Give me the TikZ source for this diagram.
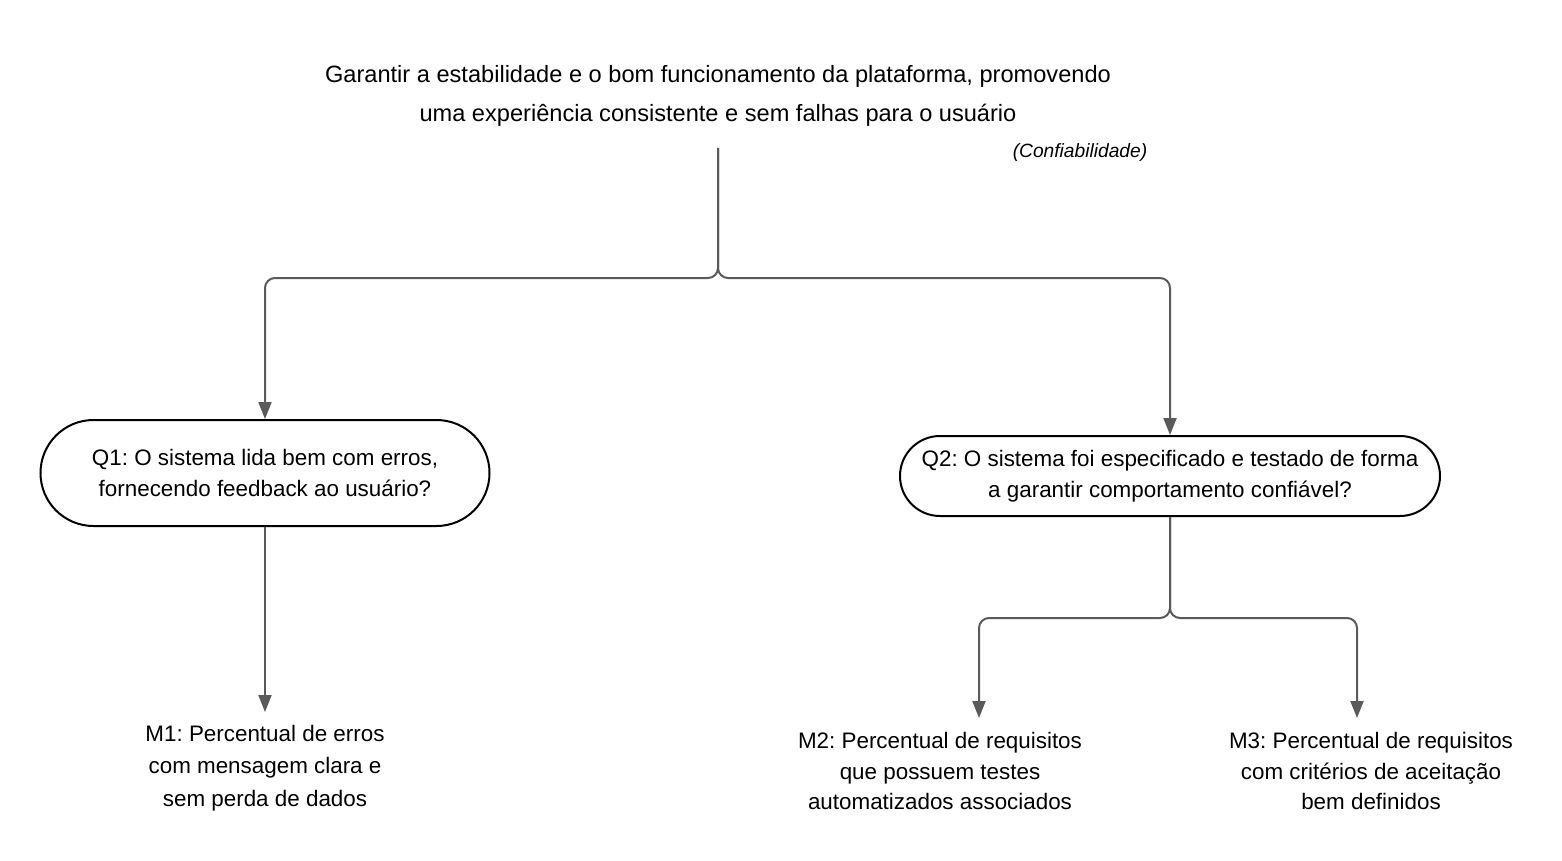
\documentclass[tikz,border=0pt]{standalone}
\usepackage{fontspec}
\setmainfont{Liberation Sans}
\usetikzlibrary{arrows.meta}
\definecolor{linec}{HTML}{5A5A5A}
\tikzset{
  conn/.style={draw=linec, line width=1pt, rounded corners=5pt, -{Triangle[width=6.5pt,length=8.5pt]}},
  txt/.style={align=center, inner sep=0pt},
  pill/.style={draw=black, line width=1pt, align=center, inner sep=0pt, font=\fontsize{11.2}{15.5}\selectfont},
}
\begin{document}
\frenchspacing
\begin{tikzpicture}[x=0.5pt,y=-0.5pt]
\useasboundingbox (0,0) rectangle (1562,861);
% goal
\node[txt, font=\fontsize{11.8}{19.5}\selectfont] (goal) at (718,96) {Garantir a estabilidade e o bom funcionamento da plataforma, promovendo\\uma experiência consistente e sem falhas para o usuário};
\node[inner sep=0pt, font=\fontsize{9.6}{10}\selectfont\itshape] (conf) at (1080,153) {(Confiabilidade)};
\coordinate (gs) at (718,148);
% questions
\node[pill, minimum width=224.5pt, minimum height=53pt, rounded corners=26.5pt] (q1) at (265,473) {Q1: O sistema lida bem com erros,\\fornecendo feedback ao usuário?};
\node[pill, minimum width=270pt, minimum height=40pt, rounded corners=20pt] (q2) at (1170,476) {Q2: O sistema foi especificado e testado de forma\\a garantir comportamento confiável?};
% metrics
\node[txt, font=\fontsize{11.2}{16.3}\selectfont] (m1) at (265,768) {M1: Percentual de erros\\com mensagem clara e\\sem perda de dados};
\node[txt, font=\fontsize{11.2}{15.3}\selectfont] (m2) at (940,771) {M2: Percentual de requisitos\\que possuem testes\\automatizados associados};
\node[txt, font=\fontsize{11.2}{15.3}\selectfont] (m3) at (1371,771) {M3: Percentual de requisitos\\com critérios de aceitação\\bem definidos};
\coordinate (m1a) at (265,712);
\coordinate (m2a) at (979,718);
\coordinate (m3a) at (1357,718);
% connectors
\draw[conn] (gs) -- (718,278) -| (q1.north);
\draw[conn] (gs) -- (718,278) -| (q2.north);
\draw[conn] (q1.south) -- (m1a);
\draw[conn] (q2.south) -- (1170,618) -| (m2a);
\draw[conn] (q2.south) -- (1170,618) -| (m3a);
\end{tikzpicture}
\end{document}
